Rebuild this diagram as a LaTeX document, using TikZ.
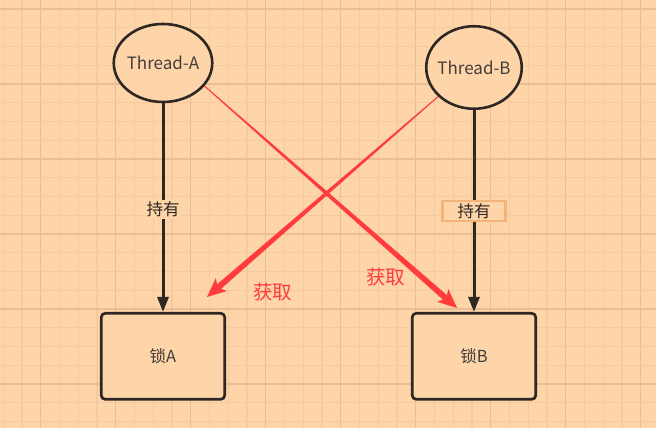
\documentclass[tikz,border=0pt]{standalone}
\usepackage{fontspec}
\setmainfont{Noto Sans CJK SC}
\usetikzlibrary{arrows.meta,calc,shapes.geometric}
\definecolor{bgpeach}{HTML}{FDD5A9}
\definecolor{gridminor}{HTML}{F5CA9F}
\definecolor{gridmajor}{HTML}{EBBD94}
\definecolor{inkdark}{HTML}{2E2724}
\definecolor{getred}{HTML}{FF3C3C}
\definecolor{tagorange}{HTML}{F2B478}
\tikzset{
  thread/.style={ellipse, draw=inkdark, line width=2.6pt, fill=bgpeach, inner xsep=-3pt, inner ysep=0pt,
    text=inkdark!90, font=\fontsize{17}{20}\selectfont},
  lockbox/.style={rectangle, rounded corners=4pt, draw=inkdark, line width=2.7pt, fill=bgpeach,
    minimum width=123.5pt, minimum height=86pt, text=inkdark!90, font=\fontsize{16.5}{19}\selectfont},
  hold/.style={draw=inkdark, line width=3pt, -{Triangle[length=15pt,width=11pt]}},
  holdtag/.style={fill=bgpeach, text=inkdark, font=\fontsize{16.5}{19}\selectfont, inner sep=2pt},
  gettext/.style={text=getred, font=\fontsize{19.5}{22}\selectfont},
}
\begin{document}
\begin{tikzpicture}[x=1pt,y=-1pt]
    % 背景网格
    \fill[bgpeach] (0,0) rectangle (656,428);
    \useasboundingbox (0,0) rectangle (656,428);
    \foreach \k in {-2,...,32} {
        \draw[gridminor, line width=1.2pt] ({40.7+18.75*\k},0) -- ({40.7+18.75*\k},428);
    }
    \foreach \k in {0,...,22} {
        \draw[gridminor, line width=1.2pt] (0,{9+18.75*\k}) -- (656,{9+18.75*\k});
    }
    \foreach \k in {0,...,8} {
        \draw[gridmajor, line width=1.5pt] ({40.7+75*\k},0) -- ({40.7+75*\k},428);
    }
    \foreach \k in {0,...,5} {
        \draw[gridmajor, line width=1.5pt] (0,{9+75*\k}) -- (656,{9+75*\k});
    }

    % 线程
    \node[thread, minimum width=98.5pt, minimum height=78pt] (tA) at (163,63) {Thread-A};
    \node[thread, minimum width=95.5pt, minimum height=82.5pt] (tB) at (474,67.5) {Thread-B};

    % 锁
    \node[lockbox] (lA) at (163,356.3) {锁A};
    \node[lockbox] (lB) at (474,356.3) {锁B};

    % 持有
    \draw[hold] (tA) -- node[holdtag, pos=0.51] (hA) {持有} (lA);
    \draw[hold] (tB) -- node[holdtag, draw=tagorange, line width=2.7pt, minimum width=63pt,
        minimum height=20pt, inner sep=0pt] (hB) {持有} (lB);

    % 获取（交叉的红色箭头）
    \coordinate (hitB) at (457,308);
    \coordinate (hitA) at (207,297);
    \foreach \s/\t in {tA.-29/hitB, tB.-141/hitA} {
        \coordinate (neck) at ($(\t)!16pt!(\s)$);
        \coordinate (barb) at ($(\t)!19pt!(\s)$);
        \fill[getred] ($(\s)!0.5pt!90:(\t)$) -- ($(neck)!3pt!90:(\t)$) -- ($(barb)!8.5pt!90:(\t)$)
            -- (\t) -- ($(barb)!8.5pt!-90:(\t)$) -- ($(neck)!3pt!-90:(\t)$)
            -- ($(\s)!0.5pt!-90:(\t)$) -- cycle;
    }
    \node[gettext] (gA) at (272.7,292) {获取};
    \node[gettext] (gB) at (385.7,277.5) {获取};
\end{tikzpicture}
\end{document}
